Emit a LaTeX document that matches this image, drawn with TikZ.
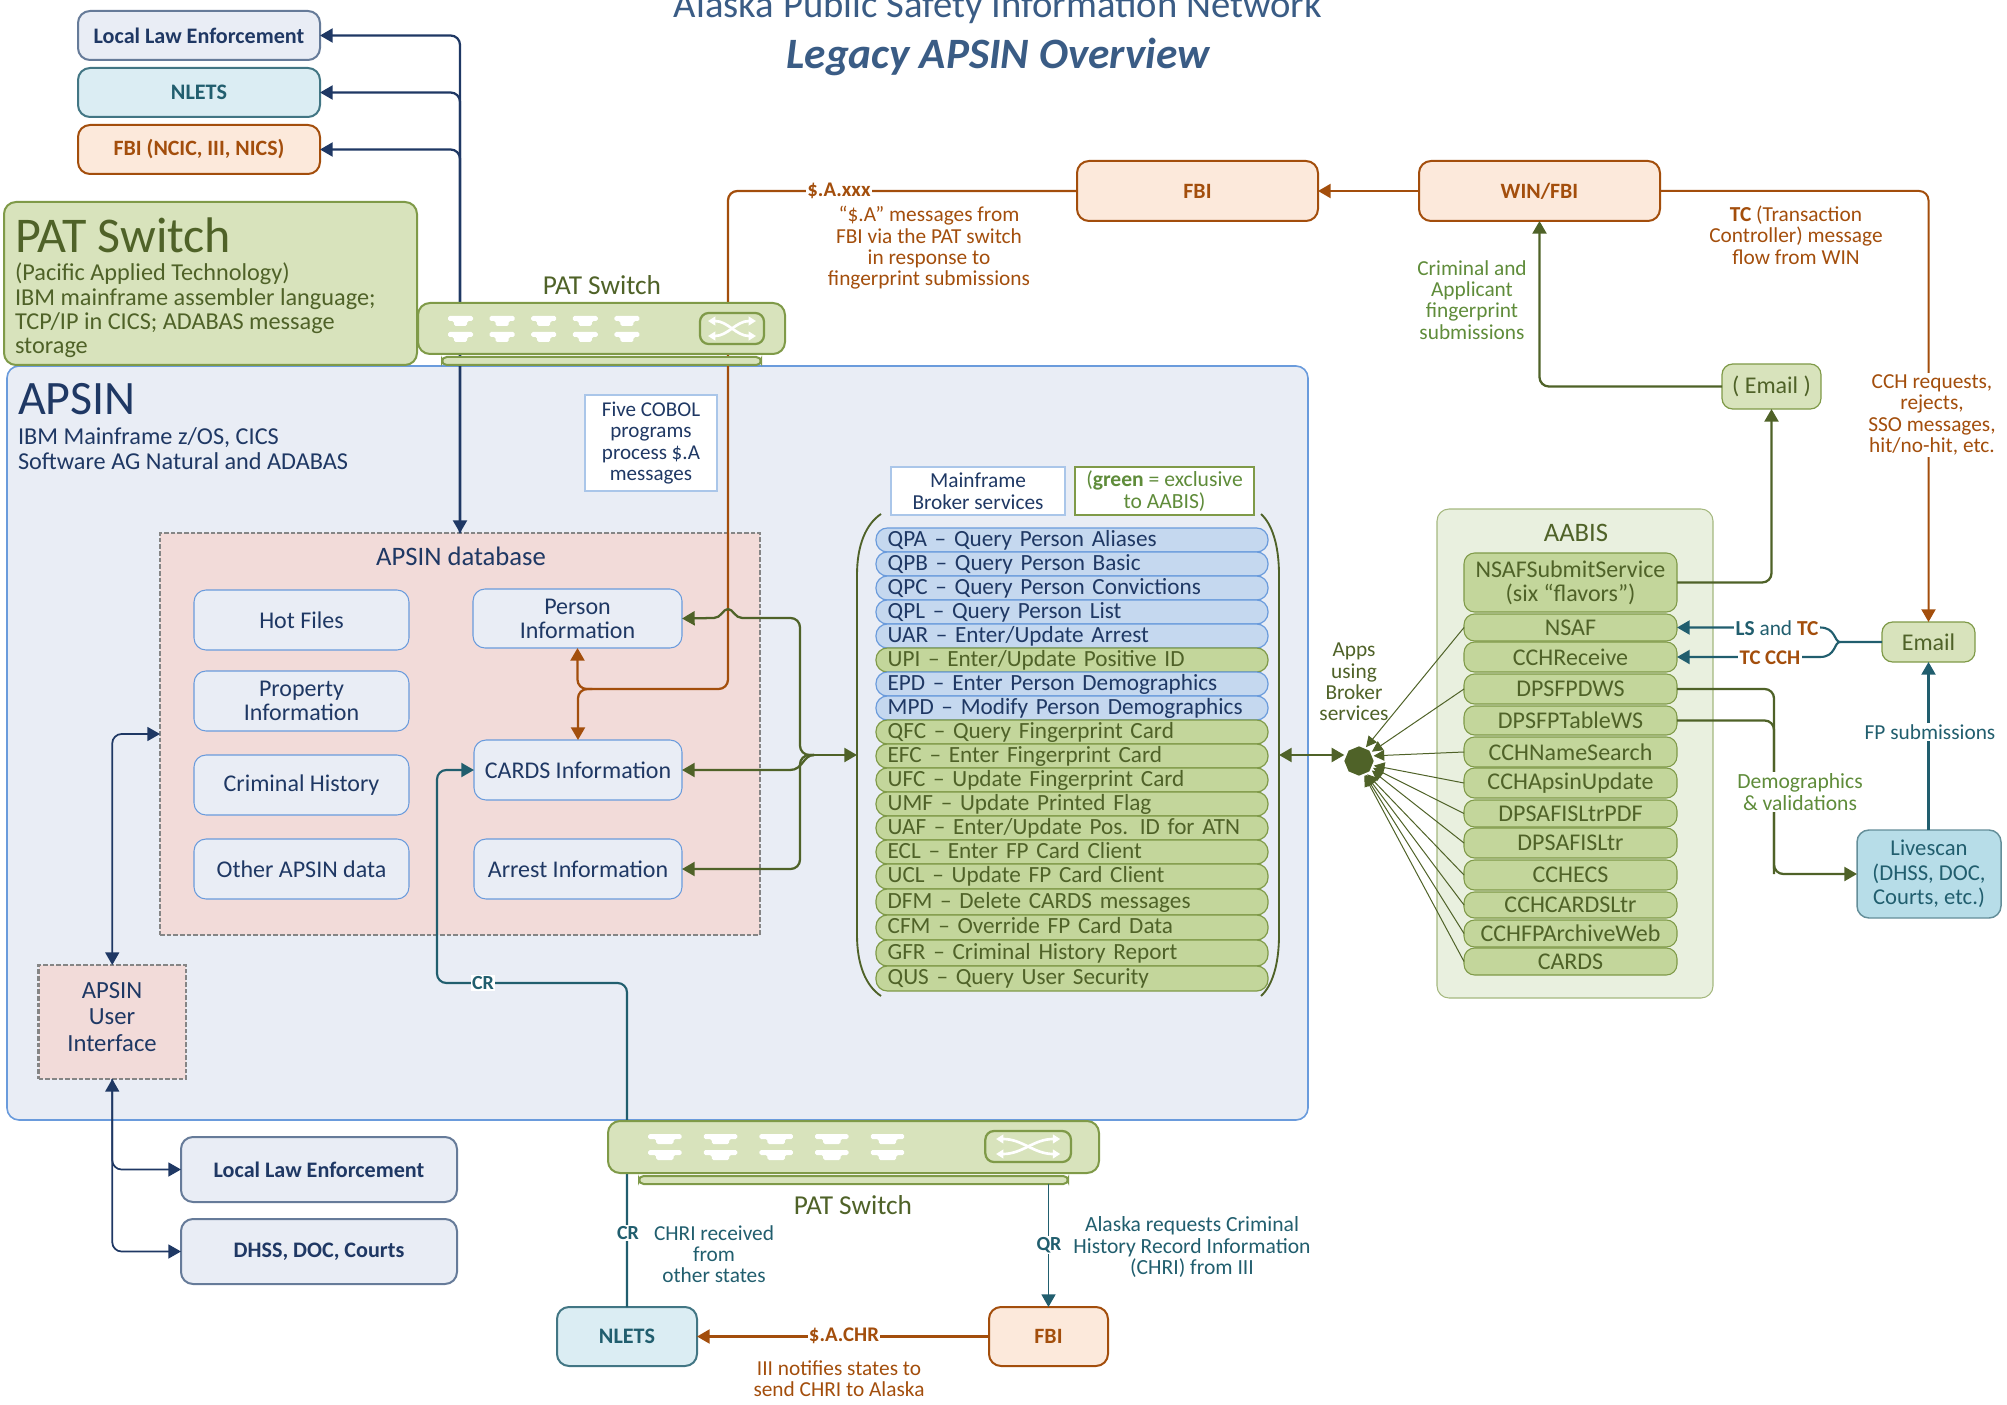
\documentclass[tikz,border=0pt]{standalone}
\usepackage{fontspec}
\setmainfont{Carlito}
\usetikzlibrary{arrows.meta,shapes.geometric,calc}
\definecolor{navyc}{HTML}{1F3864}
\definecolor{apfill}{HTML}{E9EDF5}
\definecolor{bluel}{HTML}{6A9BDC}
\definecolor{patfill}{HTML}{D8E3BC}
\definecolor{patline}{HTML}{7F9A48}
\definecolor{rowg}{HTML}{C3D69B}
\definecolor{rowb}{HTML}{C5D8EF}
\definecolor{dgreen}{HTML}{4F6228}
\definecolor{mgreen}{HTML}{5F8C3A}
\definecolor{orng}{HTML}{A34E0C}
\definecolor{orfill}{HTML}{FCE9DB}
\definecolor{teal1}{HTML}{215E6E}
\definecolor{tlfill}{HTML}{DBEDF3}
\definecolor{lsfill}{HTML}{B7DDE8}
\definecolor{dbfill}{HTML}{F2DBD9}
\definecolor{greyd}{HTML}{858585}
\definecolor{aabfill}{HTML}{E9F0DF}
\definecolor{titlec}{HTML}{3A5C85}
\definecolor{sgrey}{HTML}{8497B0}
\newcommand{\rbox}[7]{\node[#1,minimum width={(#5-#3)*0.75pt},minimum height={(#6-#4)*0.75pt}] (#2) at ({(#3+#5)/2},{(#4+#6)/2}) {#7};}
\newcommand{\fs}[2]{\fontsize{#1}{#2}\selectfont}
\newcommand{\patgear}{%
  \foreach \i in {0,...,4}{
    \foreach \yy in {13,29}{
      \fill[white,rounded corners=1.2pt] ({30+41.6*\i},\yy) -- ({55+41.6*\i},\yy) -- ({55+41.6*\i},{\yy+5}) -- ({49+41.6*\i},{\yy+5}) -- ({49+41.6*\i},{\yy+10}) -- ({36+41.6*\i},{\yy+10}) -- ({36+41.6*\i},{\yy+5}) -- ({30+41.6*\i},{\yy+5}) -- cycle;
    }}
  \draw[patline,line width=1.7pt,rounded corners=6.5pt] (282,10) rectangle (346,41);
  \draw[white,line width=2pt,{Triangle[length=5.5pt,width=6.5pt]}-{Triangle[length=5.5pt,width=6.5pt]}] (290,18) .. controls (310,18) and (318,33) .. (338,33);
  \draw[white,line width=2pt,{Triangle[length=5.5pt,width=6.5pt]}-{Triangle[length=5.5pt,width=6.5pt]}] (290,33) .. controls (310,33) and (318,18) .. (338,18);
}
\tikzset{
  every node/.style={inner sep=0pt,outer sep=0pt,align=center,font=\fs{15.6}{16.2}},
  box/.style={rounded corners=9pt,line width=1.5pt},
  basebox/.style={rounded corners=3.5pt,line width=1.5pt,draw=patline,fill=patfill},
  lawbox/.style={box,draw=sgrey!70!navyc,fill=apfill,text=navyc,font=\fs{16.6}{17}\bfseries},
  nletbox/.style={box,draw=teal1!85,fill=tlfill,text=teal1,font=\fs{16.6}{17}\bfseries},
  fbibox/.style={box,draw=orng,fill=orfill,text=orng,font=\fs{16.4}{17}\bfseries},
  dbitem/.style={rounded corners=9pt,draw=bluel,line width=.8pt,fill=apfill,text=navyc,font=\fs{18}{18}},
  rowblue/.style={rounded corners=8.5pt,draw=bluel,line width=.9pt,fill=rowb,text=navyc},
  rowgreen/.style={rounded corners=8.5pt,draw=patline,line width=.9pt,fill=rowg,text=dgreen},
  rowtxt/.style={text width=276.5pt,align=left,text height=12.5pt,text depth=3.5pt,inner xsep=8.7pt,font=\fs{17.4}{17.5}},
  aab/.style={rounded corners=8pt,draw=patline,line width=.8pt,fill=rowg,text=dgreen,font=\fs{18}{18}},
  dashbox/.style={draw=greyd,line width=2.1pt,dash pattern=on 3.5pt off 1.5pt,fill=dbfill},
  tip/.style={-{Triangle[length=9.5pt,width=10.5pt]}},
  tiptwo/.style={{Triangle[length=9.5pt,width=10.5pt]}-{Triangle[length=9.5pt,width=10.5pt]}},
  navyl/.style={draw=navyc,line width=1.7pt,rounded corners=7pt},
  orl/.style={draw=orng,line width=1.7pt,rounded corners=7pt},
  grl/.style={draw=dgreen,line width=1.7pt,rounded corners=7pt},
  tll/.style={draw=teal1,line width=1.6pt,rounded corners=7pt},
  thin/.style={draw=dgreen,line width=.75pt,shorten >=1.5pt,-{Triangle[length=8pt,width=8pt]}},
  note/.style={font=\fs{16}{16}},
  wbg/.style={fill=white,inner sep=1pt},
}
\begin{document}
\begin{tikzpicture}[x=0.75pt,y=-0.75pt]
\useasboundingbox (0,0) rectangle (2007,1405);
% title
\node[text=titlec,font=\fs{29}{30}] (title1) at (998,7) {Alaska Public Safety Information Network};
\node[text=titlec,font=\fs{32.5}{33}\itshape\bfseries] (title2) at (998,57) {Legacy APSIN Overview};
% containers
\rbox{rounded corners=9pt,draw=bluel,line width=1.2pt,fill=apfill}{apsin}{7}{366}{1308}{1120}{}
\rbox{box,draw=patline,fill=patfill}{patinfo}{4}{202}{417}{365}{}
\rbox{dashbox}{db}{160}{533}{760}{935}{}
\rbox{dashbox}{ui}{38.5}{965}{186}{1079}{}
\node[text=navyc,font=\fs{18.5}{20}] (uitxt) at (112,1017) {APSIN\\User\\Interface};
\rbox{rounded corners=9pt,draw=patline!70,line width=.8pt,fill=aabfill}{aabis}{1437}{509}{1713}{998}{}
% top-left boxes
\rbox{lawbox}{lle}{78}{11}{320}{60}{Local Law Enforcement}
\rbox{nletbox}{nlets}{78}{68}{320}{117}{NLETS}
\rbox{fbibox}{fbia}{78}{125}{320}{174}{FBI (NCIC, III, NICS)}
% info text
\node[anchor=west,text=dgreen,font=\fs{37.5}{38}] (pattitle) at (15,235) {PAT Switch};
\node[anchor=north west,text=dgreen,align=left,font=\fs{18.2}{18.2}] (pattxt) at (15,263) {(Pacific Applied Technology)\\IBM mainframe assembler language;\\TCP/IP in CICS; ADABAS message\\storage};
\node[anchor=west,text=navyc,font=\fs{36}{38}] (apsintitle) at (18,399) {APSIN};
\node[anchor=north west,text=navyc,align=left,font=\fs{18.2}{18.3}] (apsintxt) at (18,428) {IBM Mainframe z/OS, CICS\\Software AG Natural and ADABAS};
\rbox{draw=rowb!70!bluel,line width=1.2pt,fill=white,text=navyc,font=\fs{15.8}{16.2}}{cobol}{585}{395}{717}{491}{Five COBOL\\programs\\process \$.A\\messages}
\rbox{draw=rowb!70!bluel,line width=1.2pt,fill=white,text=navyc,font=\fs{16}{16.2}}{mainf}{891}{467}{1065}{515}{Mainframe\\Broker services}
\rbox{draw=patline,line width=1.2pt,fill=white,text=mgreen,font=\fs{16.2}{16.2}}{greenn}{1075}{467}{1254}{515}{(\textbf{green} = exclusive\\to AABIS)}
% database
\node[text=navyc,font=\fs{20}{20}] (dbtitle) at (461,556) {APSIN database};
\rbox{dbitem}{hot}{194}{590}{409}{650}{Hot Files}
\rbox{dbitem}{prop}{194}{671}{409}{731}{Property\\Information}
\rbox{dbitem}{crim}{194}{755}{409}{815}{Criminal History}
\rbox{dbitem}{other}{194}{839}{409}{899}{Other APSIN data}
\rbox{dbitem}{person}{473}{589}{682}{648}{Person\\Information}
\rbox{dbitem}{cards}{474}{740}{682}{800}{CARDS Information}
\rbox{dbitem}{arrest}{474}{839}{682}{899}{Arrest Information}
% service list
\foreach \n/\ya/\yb/\sty/\t in {
 r1/528/552/rowblue/{QPA – Query Person Aliases},
 r2/552/576/rowblue/{QPB – Query Person Basic},
 r3/576/600/rowblue/{QPC – Query Person Convictions},
 r4/600/624/rowblue/{QPL – Query Person List},
 r5/624/648/rowblue/{UAR – Enter/Update Arrest},
 r6/648/672/rowgreen/{UPI – Enter/Update Positive ID},
 r7/672/696/rowblue/{EPD – Enter Person Demographics},
 r8/696/720/rowblue/{MPD – Modify Person Demographics},
 r9/720/744/rowgreen/{QFC – Query Fingerprint Card},
 r10/744/768/rowgreen/{EFC – Enter Fingerprint Card},
 r11/768/792/rowgreen/{UFC – Update Fingerprint Card},
 r12/792/816/rowgreen/{UMF – Update Printed Flag},
 r13/816/840/rowgreen/{UAF – Enter/Update Pos. ID for ATN},
 r14/840/864/rowgreen/{ECL – Enter FP Card Client},
 r15/864/889/rowgreen/{UCL – Update FP Card Client},
 r16/889/915/rowgreen/{DFM – Delete CARDS messages},
 r17/915/940/rowgreen/{CFM – Override FP Card Data},
 r18/940/966/rowgreen/{GFR – Criminal History Report},
 r19/966/991/rowgreen/{QUS – Query User Security}}{
  \rbox{\sty,rowtxt}{\n}{876}{\ya}{1268}{\yb}{\t}
}
\draw[dgreen,line width=1.4pt] (881,514) .. controls (866,524) and (857,545) .. (857,575) -- (857,935) .. controls (857,965) and (866,986) .. (881,996);
\draw[dgreen,line width=1.4pt] (1261,514) .. controls (1272,524) and (1279,545) .. (1279,575) -- (1279,935) .. controls (1279,965) and (1272,986) .. (1261,996);
\coordinate (parenL) at (857,755);
\coordinate (parenR) at (1279,755);
% AABIS
\node[text=dgreen,font=\fs{20}{20}] (aabt) at (1576,533) {AABIS};
\rbox{aab}{nsafs}{1464}{553}{1677}{612}{NSAFSubmitService\\(six “flavors”)}
\rbox{aab}{nsaf}{1464}{614}{1677}{641}{NSAF}
\rbox{aab}{cchr}{1464}{642}{1677}{672}{CCHReceive}
\rbox{aab}{dpw}{1464}{674}{1677}{704}{DPSFPDWS}
\rbox{aab}{dpt}{1464}{706}{1677}{735}{DPSFPTableWS}
\rbox{aab}{cchn}{1464}{737}{1677}{767}{CCHNameSearch}
\rbox{aab}{ccha}{1464}{768}{1677}{798}{CCHApsinUpdate}
\rbox{aab}{dpp}{1464}{800}{1677}{827}{DPSAFISLtrPDF}
\rbox{aab}{dpl}{1464}{828}{1677}{858}{DPSAFISLtr}
\rbox{aab}{cche}{1464}{860}{1677}{890}{CCHECS}
\rbox{aab}{cchc}{1464}{892}{1677}{918}{CCHCARDSLtr}
\rbox{aab}{cchf}{1464}{920}{1677}{947}{CCHFPArchiveWeb}
\rbox{aab}{cardsb}{1464}{948}{1677}{975}{CARDS}
\node[regular polygon,regular polygon sides=8,shape border rotate=22.5,fill=dgreen,minimum size=22pt] (oct) at (1359,761) {};
% right side boxes
\rbox{fbibox}{fbib}{1077}{161}{1318}{221}{FBI}
\rbox{fbibox}{win}{1419}{161}{1660}{221}{WIN/FBI}
\rbox{rounded corners=8pt,draw=patline,line width=.9pt,fill=patfill,text=dgreen,font=\fs{18}{18}}{emaila}{1722}{364}{1821}{409}{( Email )}
\rbox{rounded corners=8pt,draw=patline,line width=.9pt,fill=patfill,text=dgreen,font=\fs{18}{18}}{emailb}{1882}{622}{1975}{662}{Email}
\rbox{rounded corners=9pt,draw=teal1!70,line width=1.1pt,fill=lsfill,text=teal1,font=\fs{17}{18.5}}{live}{1857}{830}{2001}{918}{Livescan\\(DHSS, DOC,\\Courts, etc.)}
% bottom boxes
\rbox{lawbox}{llec}{181}{1137}{457}{1202}{Local Law Enforcement}
\rbox{lawbox}{dhss}{181}{1219}{457}{1284}{DHSS, DOC, Courts}
\rbox{nletbox}{nletc}{557}{1307}{697}{1366}{NLETS}
\rbox{fbibox}{fbic}{989}{1307}{1108}{1366}{FBI}
% connectors
\coordinate (orc) at (728,689);
\coordinate (orj) at (592,689);
\draw[orl] (fbib.west) -| (orc) -- (orj);
\draw[orl,tip] (orj) -| (person.south);
\draw[orl,tip] (orj) -| (cards.north);
\draw[orl,tip] (win.west) -- (fbib.east);
\draw[orl,tip,line width=1.5pt] (win.east) -| (emailb.north);
\draw[navyl,tiptwo] (db.north) |- (lle.east);
\draw[navyl,tip] (db.north) |- (nlets.east);
\draw[navyl,tip] (db.north) |- (fbia.east);
\draw[navyl,tiptwo,line width=1.3pt] (ui.north) |- (db.west);
\draw[navyl,tiptwo,line width=1.3pt] (ui.south) |- (llec.west);
\draw[navyl,tip,line width=1.3pt] (ui.south) |- (dhss.west);
% green junction
\coordinate (gj) at (814,755);
\coordinate (gtop) at (800,618);
\coordinate (gbot) at (800,869);
\draw[grl,tip] (gj) -- (parenL);
\draw[grl] (gj) -| (gtop) -- (742,618);
\draw[grl,tip,sharp corners] (742,618) .. controls (735,618) and (733,609) .. (728,609) .. controls (723,609) and (721,618) .. (714,618) -- (person.east);
\draw[grl,tip] (gj) -| (gbot) -- (arrest.east);
\draw[grl,tip,sharp corners] (gj) .. controls (803,755) and (803,770) .. (790,770) -- (cards.east);
\draw[grl,tiptwo] (parenR) -- (oct.west |- parenR);
\draw[grl,tip] (emaila.west) -| (win.south);
\draw[grl,tip] (nsafs.east) -| (emaila.south);
\coordinate (gv) at (1774,874);
\draw[grl] (dpt.east) -| (gv);
\draw[grl,tip] (dpw.east) -| (gv) |- (live.west);
\foreach \a/\s in {65/nsaf,36/dpw,22/cchn,-18/ccha,-26/dpp,-36/dpl,-60/cche,-65/cchc,-68/cchf,-71/cardsb}{
  \draw[thin] (\s.west) -- (oct.\a);
}
% teal
\coordinate (crA) at (437,983);
\coordinate (bj) at (1840,642);
\draw[tll,tip] (nletc.north) |- (crA) |- (cards.west);
\draw[tll,tip] (live.north -| emailb.south) -- (emailb.south);
\draw[tll,tip,sharp corners] (emailb.west) -- (bj) .. controls (1834,642) and (1836,627.5) .. (1820,627.5) -- (nsaf.east);
\draw[tll,tip,sharp corners] (bj) .. controls (1834,642) and (1836,657) .. (1820,657) -- (cchr.east);
\draw[orl,tip] (fbic.west) -- (nletc.east);
% devices
\rbox{basebox}{devabase}{442}{357}{761}{365}{}
\rbox{box,draw=patline,fill=patfill}{deva}{418}{303}{785}{354}{}
\begin{scope}[shift={(418,303)}]\patgear\end{scope}
\rbox{basebox}{devbbase}{639}{1176}{1068}{1184}{}
\rbox{box,draw=patline,fill=patfill}{devb}{608}{1121}{1099}{1173}{}
\begin{scope}[shift={(608,1121)},xscale=1.338]\patgear\end{scope}
\draw[tll,tip,line width=1.3pt] (fbic.north |- devbbase.south) -- (fbic.north);
\node[text=dgreen,font=\fs{20.5}{20.5}] (pata) at (602,285) {PAT Switch};
\node[text=dgreen,font=\fs{20.5}{20.5}] (patb) at (853,1205) {PAT Switch};
% labels
\node[wbg,text=orng,font=\fs{15.6}{16}\bfseries] (sa) at (839,191) {\$.A.xxx};
\node[note,text=orng] (sanote) at (929,248) {“\$.A” messages from\\FBI via the PAT switch\\in response to\\fingerprint submissions};
\node[note,text=orng] (tcnote) at (1796,235) {\textbf{TC} (Transaction\\Controller) message\\flow from WIN};
\node[note,text=mgreen] (crnote) at (1472,300) {Criminal and\\Applicant\\fingerprint\\submissions};
\node[wbg,note,text=orng] (cchnote) at (1932,415) {CCH requests,\\rejects,\\SSO messages,\\hit/no-hit, etc.};
\node[note,text=dgreen] (apps) at (1354,682) {Apps\\using\\Broker\\services};
\node[wbg,text=teal1,font=\fs{16}{16}] (lst) at (1777,628) {\textbf{LS} and \textcolor{orng}{\textbf{TC}}};
\node[wbg,text=orng,font=\fs{15.6}{16}\bfseries] (tcc) at (1770,658) {TC CCH};
\node[wbg,text=teal1,font=\fs{16}{16}] (fps) at (1930,732) {FP submissions};
\node[wbg,text=mgreen,font=\fs{16.2}{16}] (dem) at (1800,792) {Demographics\\\& validations};
\node[wbg,text=teal1,font=\fs{15}{16}\bfseries,fill=white] (cra) at (483,983) {CR};
\node[wbg,text=teal1,font=\fs{15}{16}\bfseries] (crb) at (628,1233) {CR};
\node[note,text=teal1] (chri) at (714,1254) {CHRI received\\from\\other states};
\node[wbg,text=teal1,font=\fs{15}{16}\bfseries] (qr) at (1049,1245) {QR};
\node[note,text=teal1,font=\fs{16.2}{16}] (alaska) at (1192,1247) {Alaska requests Criminal\\History Record Information\\(CHRI) from III};
\node[wbg,text=orng,font=\fs{15.6}{16}\bfseries] (sachr) at (844,1336) {\$.A.CHR};
\node[note,text=orng] (iii) at (839,1379) {III notifies states to\\send CHRI to Alaska};
\end{tikzpicture}
\end{document}
